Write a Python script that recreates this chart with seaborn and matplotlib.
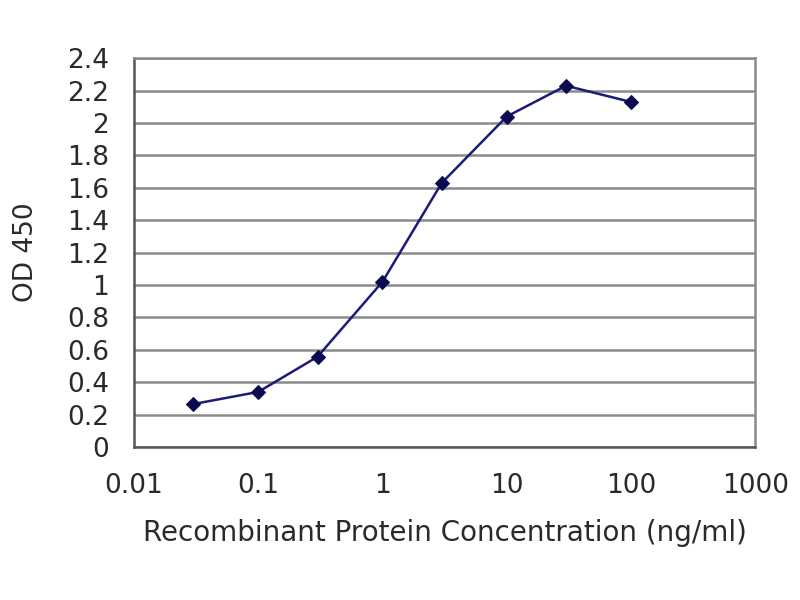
import matplotlib
matplotlib.use("Agg")
import matplotlib.pyplot as plt
import seaborn as sns
import pandas as pd
from matplotlib.ticker import FixedLocator, FixedFormatter

concentration = [0.03, 0.1, 0.3, 1, 3, 10, 30, 100]
od450 = [0.265, 0.34, 0.557, 1.02, 1.63, 2.04, 2.23, 2.13]
x_ticks = [0.01, 0.1, 1, 10, 100, 1000]
x_tick_labels = ["0.01", "0.1", "1", "10", "100", "1000"]
y_ticks = [0, 0.2, 0.4, 0.6, 0.8, 1, 1.2, 1.4, 1.6, 1.8, 2, 2.2, 2.4]
y_tick_labels = ["0", "0.2", "0.4", "0.6", "0.8", "1", "1.2", "1.4", "1.6", "1.8", "2", "2.2", "2.4"]

sns.set_style("white")
plt.rcParams['font.family'] = ['DejaVu Sans']

df = pd.DataFrame({"conc": concentration, "od": od450})

fig = plt.figure(figsize=(8, 6), dpi=100)
ax = fig.add_axes([0.1675, 0.255, 0.7765, 0.648])

sns.lineplot(data=df, x="conc", y="od", ax=ax, color="#1c1c78", linewidth=1.8,
             marker="D", markersize=7, markeredgecolor="#0a0a50", markerfacecolor="#0a0a50")

ax.set_xscale("log")
ax.set_xlim(0.01, 1000)
ax.set_ylim(0, 2.4)
ax.xaxis.set_major_locator(FixedLocator(x_ticks))
ax.xaxis.set_major_formatter(FixedFormatter(x_tick_labels))
ax.xaxis.set_minor_locator(FixedLocator([]))
ax.yaxis.set_major_locator(FixedLocator(y_ticks))
ax.yaxis.set_major_formatter(FixedFormatter(y_tick_labels))

ax.grid(axis="y", color="#8a8a8a", linewidth=1.8)
ax.grid(axis="x", visible=False)
ax.set_axisbelow(True)

for side in ["left", "bottom"]:
    ax.spines[side].set_color("#555555")
    ax.spines[side].set_linewidth(1.8)
for side in ["right", "top"]:
    ax.spines[side].set_color("#8a8a8a")
    ax.spines[side].set_linewidth(1.8)

ax.tick_params(axis="both", labelsize=19, colors="#2a2a2a", length=4, direction="in")
ax.tick_params(axis="x", pad=19)
ax.tick_params(axis="y", pad=18, length=0)

ax.set_xlabel("Recombinant Protein Concentration (ng/ml)", fontsize=20, color="#2a2a2a", labelpad=14)
ax.set_ylabel("OD 450", fontsize=19, color="#2a2a2a", labelpad=20)

fig.savefig("out.png", dpi=100)
